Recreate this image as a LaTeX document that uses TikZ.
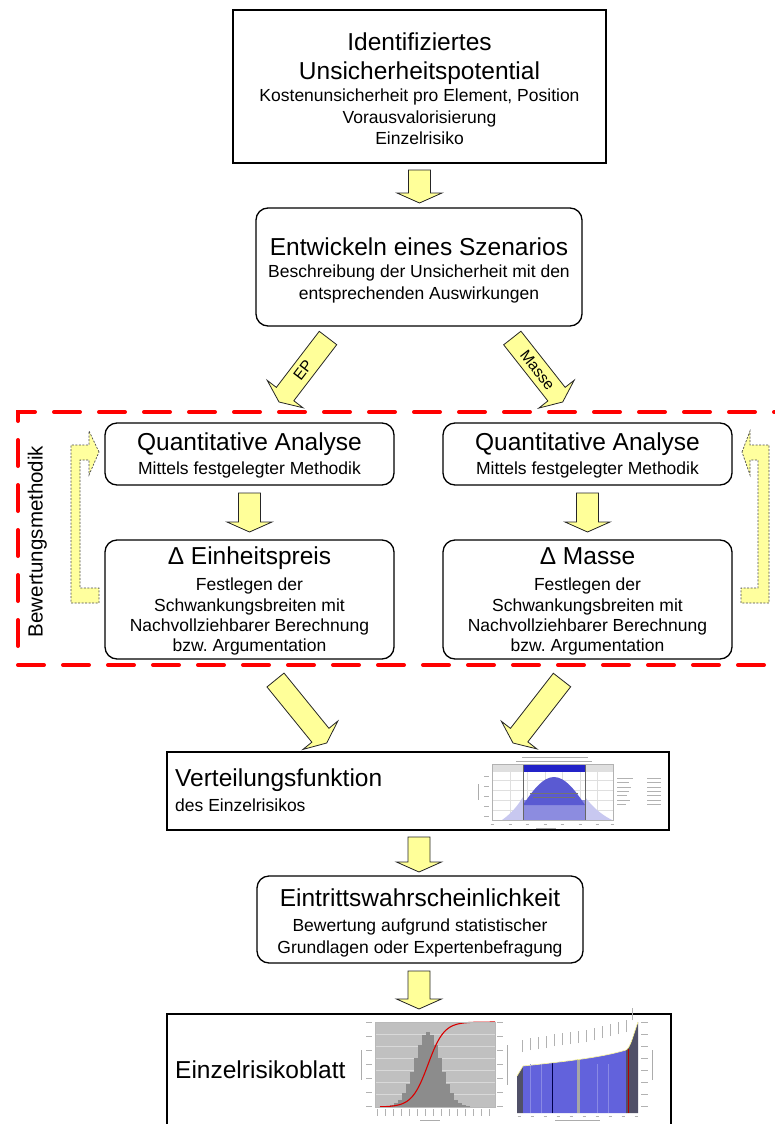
\documentclass[tikz,border=0pt]{standalone}
\usepackage{fontspec}
\setmainfont{Liberation Sans}
\usetikzlibrary{calc}
\frenchspacing
\definecolor{ayellow}{HTML}{FFFF99}
\definecolor{fbyellow}{HTML}{FFFF9E}
\definecolor{chlav}{HTML}{C8C8F0}
\definecolor{chmid}{HTML}{8C8CE0}
\definecolor{chdome}{HTML}{5A5AD2}
\definecolor{chdark}{HTML}{2323C8}
\definecolor{rblue}{HTML}{6262DC}
\definecolor{rslate}{HTML}{505068}
\definecolor{hgray}{HTML}{C0C0C0}
\definecolor{bgray}{HTML}{8C8C8C}
\newcommand\fatarrow[2]{%
  \coordinate (fhb) at ($(#2)!10pt!(#1)$);%
  \draw[fat] ($(#1)!11pt!90:(#2)$) -- ($(fhb)!11pt!-90:(#1)$) -- ($(fhb)!22.5pt!-90:(#1)$) -- (#2) -- ($(fhb)!22.5pt!90:(#1)$) -- ($(fhb)!11pt!90:(#1)$) -- ($(#1)!11pt!-90:(#2)$) -- cycle;}
\tikzset{
  big/.style={font=\fontsize{24.5}{29}\selectfont, inner sep=0pt, anchor=base},
  small/.style={font=\fontsize{17.5}{21}\selectfont, inner sep=0pt, anchor=base},
  sqbox/.style={draw, line width=1.3pt, fill=white, inner sep=0pt},
  rbox/.style={draw, line width=1.3pt, rounded corners=12pt, fill=white, inner sep=0pt},
  fat/.style={draw=black!85, line width=0.8pt, fill=ayellow, line join=miter},
  fback/.style={draw=black!70, dash pattern=on 2pt off 1.5pt, line width=0.7pt, fill=fbyellow},
  redframe/.style={draw=red, line width=4pt, dash pattern=on 26pt off 19pt, line cap=round},
  ghost/.style={draw=gray!65, line width=0.8pt},
  arrowlabel/.style={font=\fontsize{15.5}{18}\selectfont, inner sep=0pt},
}
\begin{document}
\begin{tikzpicture}[x=1pt,y=-1pt]
\useasboundingbox (0,0) rectangle (775,1124);
\clip (0,0) rectangle (775,1124);

% ---------------- boxes ----------------
\node[sqbox, minimum width=373pt, minimum height=153pt] (top) at (419.5,86.5) {};
\node[big] (topA) at (419.5,51) {Identifiziertes};
\node[big] (topB) at (419.5,80) {Unsicherheitspotential};
\node[small] (topC) at (419.5,101.5) {Kostenunsicherheit pro Element, Position};
\node[small] (topD) at (419.5,123) {Vorausvalorisierung};
\node[small] (topE) at (419.5,144.5) {Einzelrisiko};

\node[rbox, minimum width=326pt, minimum height=118pt] (scen) at (419,267) {};
\node[big] (scenA) at (419,255) {Entwickeln eines Szenarios};
\node[small] (scenB) at (419,277) {Beschreibung der Unsicherheit mit den};
\node[small] (scenC) at (419,299) {entsprechenden Auswirkungen};

\node[rbox, minimum width=289pt, minimum height=62pt] (qL) at (249.5,454) {};
\node[big] (qLA) at (249.5,450) {Quantitative Analyse};
\node[small] (qLB) at (249.5,474) {Mittels festgelegter Methodik};

\node[rbox, minimum width=289pt, minimum height=62pt] (qR) at (587.5,454) {};
\node[big] (qRA) at (587.5,450) {Quantitative Analyse};
\node[small] (qRB) at (587.5,474) {Mittels festgelegter Methodik};

\node[rbox, minimum width=289pt, minimum height=119pt] (dL) at (249.5,599.5) {};
\node[big] (dLA) at (249.5,564.5) {Δ Einheitspreis};
\node[small] (dLB) at (249.5,590) {Festlegen der};
\node[small] (dLC) at (249.5,611) {Schwankungsbreiten mit};
\node[small] (dLD) at (249.5,631.5) {Nachvollziehbarer Berechnung};
\node[small] (dLE) at (249.5,651.5) {bzw.\ Argumentation};

\node[rbox, minimum width=289pt, minimum height=119pt] (dR) at (587.5,599.5) {};
\node[big] (dRA) at (587.5,564.5) {Δ Masse};
\node[small] (dRB) at (587.5,590) {Festlegen der};
\node[small] (dRC) at (587.5,611) {Schwankungsbreiten mit};
\node[small] (dRD) at (587.5,631.5) {Nachvollziehbarer Berechnung};
\node[small] (dRE) at (587.5,651.5) {bzw.\ Argumentation};

\node[sqbox, minimum width=502pt, minimum height=78pt] (vert) at (418,791) {};
\node[big, anchor=base west] (vertA) at (175,786.5) {Verteilungsfunktion};
\node[small, anchor=base west] (vertB) at (175,811.5) {des Einzelrisikos};

\node[rbox, minimum width=326pt, minimum height=87pt] (eint) at (420,919.5) {};
\node[big] (eintA) at (420,906) {Eintrittswahrscheinlichkeit};
\node[small] (eintB) at (420,931.5) {Bewertung aufgrund statistischer};
\node[small] (eintC) at (420,953) {Grundlagen oder Expertenbefragung};

\node[sqbox, minimum width=504pt, minimum height=126pt] (blatt) at (419,1077) {};
\node[big, anchor=base west] (blattA) at (175,1078.5) {Einzelrisikoblatt};

% ---------------- red frame ----------------
\draw[redframe] (800,412) -- (18,412) -- (18,665) -- (800,665);
\node[font=\fontsize{20.5}{24}\selectfont, rotate=90, anchor=base, inner sep=0pt] (bew) at (42.5,541.5) {Bewertungsmethodik};

% ---------------- fat arrows ----------------
\coordinate (a1t) at (419.5,170);  \coordinate (a1h) at (419.5,203);
\coordinate (epT) at (328,338);    \coordinate (epH) at (279,402);
\coordinate (maT) at (512.3,338);  \coordinate (maH) at (562.7,402);
\coordinate (qLt) at (249.5,493);  \coordinate (qLh) at (249.5,532);
\coordinate (qRt) at (587.5,493);  \coordinate (qRh) at (587.5,532);
\coordinate (bLt) at (275.5,680);  \coordinate (bLh) at (326.7,743);
\coordinate (bRt) at (562,680);    \coordinate (bRh) at (513,743);
\coordinate (a4t) at (419,837);    \coordinate (a4h) at (419,872);
\coordinate (a5t) at (419,971);    \coordinate (a5h) at (419,1009);
\fatarrow{a1t}{a1h}
\fatarrow{epT}{epH}
\fatarrow{maT}{maH}
\fatarrow{qLt}{qLh}
\fatarrow{qRt}{qRh}
\fatarrow{bLt}{bLh}
\fatarrow{bRt}{bRh}
\fatarrow{a4t}{a4h}
\fatarrow{a5t}{a5h}
\node[arrowlabel, rotate=52.6] (epl) at (303,370) {EP};
\node[arrowlabel, rotate=-52] (mal) at (537.5,370) {Masse};

% ---------------- feedback arrows ----------------
\draw[fback] (99,452) -- (89,431) -- (89,445) -- (71,445) -- (71,603) -- (99,603) -- (99,588)
  -- (80,588) -- (80,460) -- (89,460) -- (89,475) -- cycle;
\draw[fback] (742,452) -- (750,431) -- (750,445) -- (769,445) -- (769,603) -- (741,603) -- (741,588)
  -- (758,588) -- (758,460) -- (750,460) -- (750,475) -- cycle;

% ---------------- chart in Verteilungsfunktion ----------------
\draw[ghost] (522,757) -- (588,757);
\draw[ghost] (516,761) -- (592,761);
\foreach \x in {510,527,545,562,580,597} \draw[gray!25, line width=0.3pt] (\x,772) -- (\x,820);
\foreach \y in {780,790,800,810} \draw[gray!25, line width=0.3pt] (492,\y) -- (613,\y);
\fill[gray!25] (492,764) rectangle (523,772);
\fill[gray!25] (585,764) rectangle (613,772);
\fill[chdark] (523,764) rectangle (585,772);
\fill[chlav] (502,820) .. controls (512,813) and (518,805) .. (523,797) -- (523,820) -- cycle;
\fill[chlav] (585,797) .. controls (592,806) and (600,814) .. (612,820) -- (585,820) -- cycle;
\fill[chmid] (523,800) rectangle (585,820);
\fill[chdome] (523,805) .. controls (533,790) and (543,777) .. (554,777) .. controls (565,777) and (575,790) .. (585,805) -- cycle;
\draw[black!60, line width=0.6pt] (523,764) -- (523,820);
\draw[black!60, line width=0.6pt] (585,764) -- (585,820);
\draw[black!55, line width=0.8pt] (530,793) -- (578,793);
\draw[black!55, line width=0.8pt] (533,797) -- (575,797);
\draw[gray!60, line width=0.5pt] (492,764) rectangle (613,820);
\foreach \y in {776,786,796,806,816} \draw[gray!60, line width=0.7pt] (484,\y) -- (489,\y);
\draw[ghost] (478,784) -- (478,800);
\foreach \x in {492,510,527,545,562,580,597,612} \draw[gray!60, line width=0.7pt] (\x-1.5,824) -- (\x+1.5,824);
\draw[ghost] (536,828) -- (556,828);
\foreach \y/\l in {778/16,782/12,787/14,791/12,795/10,800/13,804/9}
  {\draw[gray!60, line width=0.8pt] (617,\y) -- (617+\l,\y);
   \draw[gray!60, line width=0.8pt] (647,\y) -- (661,\y);}

% ---------------- charts in Einzelrisikoblatt ----------------
% left: histogram
\fill[hgray] (375,1022) rectangle (495,1107);
\foreach \y in {1034,1046,1058,1070,1082,1094} \draw[white!70!gray, line width=0.4pt] (375,\y) -- (495,\y);
\foreach \i in {0,...,20} {
  \pgfmathsetmacro\xx{388+4*\i}
  \pgfmathsetmacro\hh{75*exp(-0.5*((\xx-428)/13)*((\xx-428)/13))}
  \fill[bgray] (\xx-1.7,1107) rectangle (\xx+1.7,1107-\hh);
}
\draw[red!85!black, line width=1.1pt] plot[domain=380:495, samples=60] (\x, {1107-85/(1+exp(-(\x-428)/8))});
\draw[gray!55, line width=0.4pt] (375,1022) rectangle (495,1107);
\foreach \y in {1022,1036,1050,1064,1078,1092,1106} {\draw[gray!60, line width=0.7pt] (366,\y) -- (372,\y); \draw[gray!60, line width=0.7pt] (497,\y) -- (503,\y);}
\draw[ghost] (361,1050) -- (361,1080);
\draw[ghost] (507,1045) -- (507,1085);
\foreach \x in {377,385,...,493} \draw[gray!60, line width=0.7pt] (\x,1109) -- (\x,1116);
\draw[ghost] (420,1120) -- (440,1120);
% right: sorted contributions
\fill[rslate] (517,1113) -- (517,1076) -- (523,1066) -- (523,1113) -- cycle;
\fill[rblue] (523,1113) -- (523,1066) .. controls (560,1062) and (600,1058) .. (626,1050) -- (626,1113) -- cycle;
\fill[rslate] (626,1113) -- (626,1050) .. controls (631,1047) and (633,1035) .. (638,1022) -- (638,1113) -- cycle;
\foreach \x in {530,541,597,608} \draw[rblue!75!white, line width=0.8pt] (\x,1113) -- (\x,1064);
\draw[blue!30!black, line width=0.8pt] (552,1113) -- (552,1063);
\fill[gray!70] (577,1113) rectangle (580,1059);
\draw[red!70!black, line width=1pt] (628,1113) -- (628,1049);
\draw[yellow!40!white, line width=0.6pt] (517,1076) -- (523,1066) .. controls (560,1062) and (600,1058) .. (626,1050) .. controls (631,1047) and (633,1035) .. (638,1022);
\foreach \x/\y in {522/1052,530/1050,538/1049,546/1048,554/1046,562/1045,570/1044,578/1043,586/1042,594/1040,602/1038,610/1036,618/1034,626/1032,632/1020}
  \draw[gray!60, line width=0.9pt] (\x,\y) -- (\x,\y-12);
\foreach \y in {1022,1034,1046,1058,1070,1082,1094,1106} \draw[gray!60, line width=0.7pt] (641,\y) -- (648,\y);
\draw[ghost] (652,1050) -- (652,1080);
\foreach \x in {519,532,545,558,571,584,597,610,623,636} \draw[gray!60, line width=0.7pt] (\x-1.5,1116) -- (\x+1.5,1116);
\draw[ghost] (555,1120) -- (600,1120);
\end{tikzpicture}
\end{document}
